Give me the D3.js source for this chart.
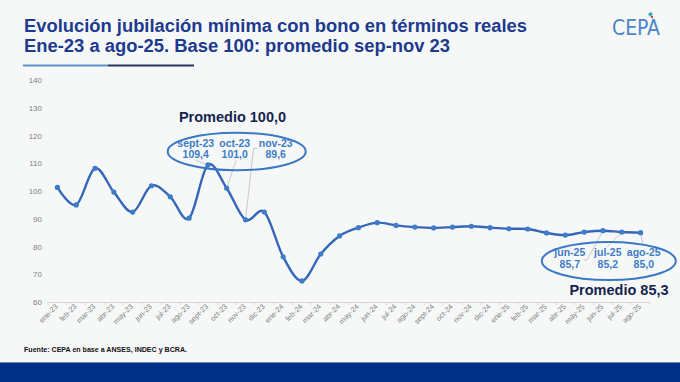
<!DOCTYPE html>
<html>
<head>
<meta charset="utf-8">
<script src="https://cdn.jsdelivr.net/npm/d3@7"></script>
<style>
  body { margin: 0; background: #f6f8f7; }
  svg { display: block; font-family: "Liberation Sans", Arial, sans-serif; }
</style>
</head>
<body>
<div id="container"></div>
<script>
// months and index values (base 100 = promedio sep-nov 23)
var months = ["ene-23","feb-23","mar-23","abr-23","may-23","jun-23","jul-23","ago-23","sept-23","oct-23","nov-23","dic-23",
  "ene-24","feb-24","mar-24","abr-24","may-24","jun-24","jul-24","ago-24","sept-24","oct-24","nov-24","dic-24",
  "ene-25","feb-25","mar-25","abr-25","may-25","jun-25","jul-25","ago-25"];
var values = [101.3, 95.0, 108.2, 99.6, 92.4, 101.9, 97.9, 90.2, 109.4, 101.0, 89.6, 92.4,
  76.3, 67.6, 77.3, 83.8, 86.8, 88.6, 87.6, 87.0, 86.7, 87.0, 87.3, 86.8,
  86.4, 86.3, 84.9, 84.1, 85.2, 85.7, 85.2, 85.0];
var yTicks = [60, 70, 80, 90, 100, 110, 120, 130, 140];

var baseMonths = ["sept-23", "oct-23", "nov-23"];
var baseLabels = ["109,4", "101,0", "89,6"];
var baseAvg = "Promedio 100,0";
var lastMonths = ["jun-25", "jul-25", "ago-25"];
var lastLabels = ["85,7", "85,2", "85,0"];
var lastAvg = "Promedio 85,3";

var width = 680, height = 382;
var navy = "#1d3a8f", lineBlue = "#3566b8", labelBlue = "#3f7cc6", gray = "#7f7f7f";

var svg = d3.select("#container").append("svg")
  .attr("width", width)
  .attr("height", height);

svg.append("rect").attr("width", width).attr("height", height).attr("fill", "#f6f8f7");

// title
svg.append("text")
  .attr("x", 24).attr("y", 31.5)
  .attr("font-size", 17.5).attr("font-weight", "bold").attr("fill", navy)
  .attr("textLength", 503).attr("lengthAdjust", "spacingAndGlyphs")
  .text("Evolución jubilación mínima con bono en términos reales");
svg.append("text")
  .attr("x", 24).attr("y", 51.5)
  .attr("font-size", 17.5).attr("font-weight", "bold").attr("fill", navy)
  .attr("textLength", 426).attr("lengthAdjust", "spacingAndGlyphs")
  .text("Ene-23 a ago-25. Base 100: promedio sep-nov 23");

svg.append("rect").attr("x", 23).attr("y", 64.5).attr("width", 85).attr("height", 2).attr("fill", "#5d8fcb");
svg.append("rect").attr("x", 108).attr("y", 64.5).attr("width", 86).attr("height", 2).attr("fill", "#26365e");

// logo
svg.append("text")
  .attr("x", 612).attr("y", 34.5)
  .attr("font-family", "'Liberation Sans Narrow', 'DejaVu Sans Condensed', sans-serif")
  .attr("font-size", 22).attr("fill", "#4a86c8")
  .attr("textLength", 48).attr("lengthAdjust", "spacingAndGlyphs")
  .text("CEPA");
svg.append("path").attr("d", "M648,14 l3,-2 l2,2 l-3,3 z").attr("fill", "#3aa7b5");
svg.append("circle").attr("cx", 652).attr("cy", 17).attr("r", 1.2).attr("fill", "#c0504d");

// scales
var x = d3.scaleBand().domain(months).range([48, 650]);
var xc = function(m) { return x(m) + x.bandwidth() / 2; };
var y = d3.scaleLinear().domain([60, 140]).range([302, 80]);

// y axis
var yAxis = d3.axisLeft(y).tickValues(yTicks).tickSize(0).tickPadding(6);
var gy = svg.append("g").attr("transform", "translate(48,0)").call(yAxis);
gy.select(".domain").remove();
gy.selectAll("text").attr("font-size", 8).attr("fill", gray).attr("font-family", "'Liberation Sans', Arial, sans-serif");

// x axis
var xAxis = d3.axisBottom(x).tickSize(0).tickPadding(0);
var gx = svg.append("g").attr("transform", "translate(0,302)").call(xAxis);
gx.select(".domain").attr("stroke", "#d9d9d9").attr("stroke-width", 1.2);
gx.selectAll(".tick text")
  .attr("font-size", 7.4).attr("fill", gray).attr("font-family", "'Liberation Sans', Arial, sans-serif")
  .attr("text-anchor", "end")
  .attr("dy", 0)
  .attr("transform", "translate(1,5) rotate(-45)");
// tick marks between categories
svg.append("g").selectAll("line")
  .data(months.concat(["end"]))
  .join("line")
  .attr("x1", function(d, i) { return 48 + i * x.step(); })
  .attr("x2", function(d, i) { return 48 + i * x.step(); })
  .attr("y1", 302).attr("y2", 305)
  .attr("stroke", "#d9d9d9").attr("stroke-width", 1);

// leader lines
var leader = svg.append("g").attr("stroke", "#bdbdbd").attr("stroke-width", 0.8).attr("fill", "none");
var pt = function(m) { return [xc(m), y(values[months.indexOf(m)])]; };
var p;
p = pt("sept-23"); leader.append("path").attr("d", "M196,160.5 L" + p[0] + "," + p[1]);
p = pt("oct-23"); leader.append("path").attr("d", "M236,160.5 L" + p[0] + "," + p[1]);
p = pt("nov-23"); leader.append("path").attr("d", "M257,148.5 L253.5,148.5 L" + p[0] + "," + p[1]);
p = pt("jun-25"); leader.append("path").attr("d", "M583.5,260 L587,260 L" + p[0] + "," + p[1]);
p = pt("jul-25"); leader.append("path").attr("d", "M607,247 L" + p[0] + "," + p[1]);
p = pt("ago-25"); leader.append("path").attr("d", "M" + p[0] + "," + p[1] + " L643,245");

// line
var line = d3.line()
  .x(function(d, i) { return xc(months[i]); })
  .y(function(d) { return y(d); })
  .curve(d3.curveCardinal.tension(0));

svg.append("path")
  .datum(values)
  .attr("d", line)
  .attr("fill", "none")
  .attr("stroke", lineBlue)
  .attr("stroke-width", 2.4);

svg.append("g").selectAll("circle")
  .data(values)
  .join("circle")
  .attr("cx", function(d, i) { return xc(months[i]); })
  .attr("cy", function(d) { return y(d); })
  .attr("r", 2.6)
  .attr("fill", "#3d7cc9");

// annotation groups
function callout(ms, labels, avg, cx, cy, rx, ry, offsets, avgX, avgY) {
  svg.append("ellipse")
    .attr("cx", cx).attr("cy", cy).attr("rx", rx).attr("ry", ry)
    .attr("fill", "none").attr("stroke", "#3b78c4").attr("stroke-width", 2);
  ms.forEach(function(m, i) {
    var t = svg.append("text")
      .attr("text-anchor", "middle")
      .attr("font-size", 10.5).attr("font-weight", "bold").attr("fill", labelBlue);
    t.append("tspan").attr("x", cx + offsets[i]).attr("y", cy - 5).text(m);
    t.append("tspan").attr("x", cx + offsets[i]).attr("y", cy + 6.5).text(labels[i]);
  });
  svg.append("text")
    .attr("x", avgX).attr("y", avgY)
    .attr("text-anchor", "middle")
    .attr("font-size", 14.5).attr("font-weight", "bold").attr("fill", "#15244f")
    .text(avg);
}

callout(baseMonths, baseLabels, baseAvg, xc("oct-23") + 10, 151.5, 69, 18.7, [-41, -2, 39], 232.5, 122);
callout(lastMonths, lastLabels, lastAvg, xc("jul-25") - 13, 261, 67, 19, [-39, -1, 35], 619, 294.5);

// source
svg.append("text")
  .attr("x", 24).attr("y", 352)
  .attr("font-size", 7.5).attr("font-weight", "bold").attr("fill", "#111")
  .attr("textLength", 163).attr("lengthAdjust", "spacingAndGlyphs")
  .text("Fuente: CEPA en base a ANSES, INDEC y BCRA.");

// footer band
svg.append("rect").attr("x", 0).attr("y", 362).attr("width", width).attr("height", 1).attr("fill", "#6d86b3");
svg.append("rect").attr("x", 0).attr("y", 363).attr("width", width).attr("height", 19).attr("fill", "#003087");
</script>
</body>
</html>
